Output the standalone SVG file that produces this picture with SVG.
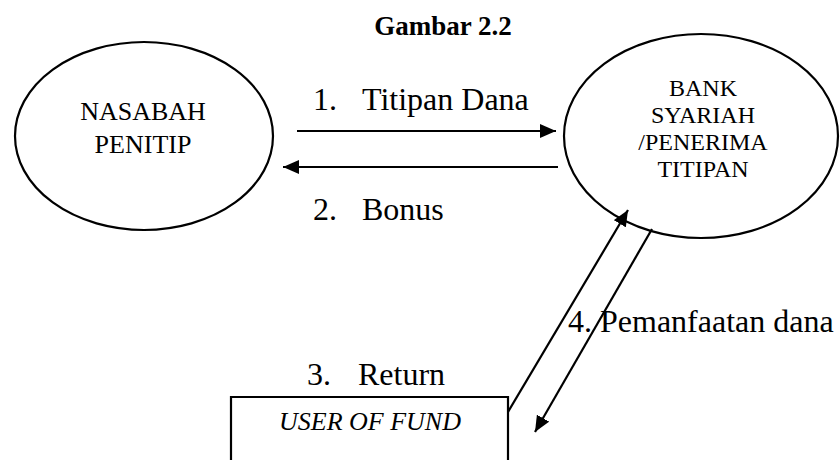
<svg xmlns="http://www.w3.org/2000/svg" width="840" height="460" viewBox="0 0 840 460">
  <style>
    text { font-family: "Liberation Serif", "Times New Roman", serif; fill: #000; }
    .title { font-size: 27px; font-weight: bold; text-anchor: middle; }
    .node { fill: #fff; stroke: #000; stroke-width: 2.2; }
    .left-label { font-size: 26px; text-anchor: middle; }
    .right-label { font-size: 24px; text-anchor: middle; }
    .box-label { font-size: 26px; font-style: italic; text-anchor: middle; }
    .flow { font-size: 32px; }
    .edge { stroke: #000; stroke-width: 2.2; fill: none; }
  </style>
  <defs>
    <marker id="arrow" viewBox="0 0 16 14" refX="16" refY="7" markerWidth="16" markerHeight="14" markerUnits="userSpaceOnUse" orient="auto">
      <path d="M0,0 L16,7 L0,14 z" fill="#000"/>
    </marker>
  </defs>

  <rect width="840" height="460" fill="#fff"/>

  <text class="title" x="443" y="35">Gambar 2.2</text>

  <!-- depositor -->
  <g id="nasabah-penitip">
    <ellipse class="node" cx="144" cy="136" rx="129" ry="94"/>
    <text class="left-label" x="143" y="120">NASABAH</text>
    <text class="left-label" x="143" y="153">PENITIP</text>
  </g>

  <!-- bank receiving the deposit -->
  <g id="bank-syariah">
    <ellipse class="node" cx="701" cy="136" rx="137" ry="102"/>
    <text class="right-label" x="703" y="96">BANK</text>
    <text class="right-label" x="703" y="123">SYARIAH</text>
    <text class="right-label" x="703" y="150">/PENERIMA</text>
    <text class="right-label" x="703" y="177">TITIPAN</text>
  </g>

  <!-- fund user (box runs off the bottom edge) -->
  <g id="user-of-fund">
    <path class="edge" d="M231,470 V397 H508 V470"/>
    <text class="box-label" x="370" y="430">USER OF FUND</text>
  </g>

  <g id="connectors">
    <line class="edge" x1="297" y1="131" x2="556" y2="131" marker-end="url(#arrow)"/>
    <line class="edge" x1="558" y1="167" x2="283" y2="167" marker-end="url(#arrow)"/>
    <line class="edge" x1="508" y1="412" x2="628" y2="210" marker-end="url(#arrow)"/>
    <line class="edge" x1="652" y1="229" x2="535" y2="432" marker-end="url(#arrow)"/>
  </g>

  <g id="flow-labels">
    <text class="flow" x="313" y="110">1.</text>
    <text class="flow" x="362" y="110">Titipan Dana</text>
    <text class="flow" x="313" y="220">2.</text>
    <text class="flow" x="362" y="220">Bonus</text>
    <text class="flow" x="307" y="385">3.</text>
    <text class="flow" x="358" y="385">Return</text>
    <text class="flow" x="568" y="332">4. Pemanfaatan dana</text>
  </g>
</svg>
